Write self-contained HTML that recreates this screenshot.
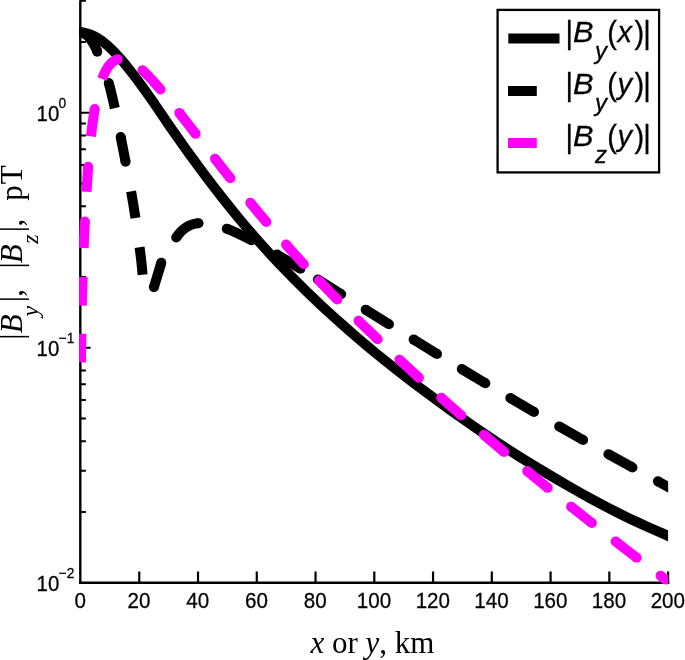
<!DOCTYPE html>
<html><head><meta charset="utf-8"><title>Magnetic field components</title>
<style>html,body{margin:0;padding:0;background:#fff}svg{display:block}</style></head>
<body>
<svg width="685" height="660" viewBox="0 0 685 660">
<rect width="685" height="660" fill="#fff"/>
<defs><clipPath id="c"><rect x="79.1" y="0" width="589.0" height="584.2"/></clipPath></defs>
<g stroke="#000" fill="none">
<path d="M80.3 0.2 V584.10" stroke-width="2.4"/>
<path d="M79.1 582.8 H669.4" stroke-width="2.6"/>
<path d="M139.26 582.8 V571.5 M198.02 582.8 V571.5 M256.78 582.8 V571.5 M315.54 582.8 V571.5 M374.30 582.8 V571.5 M433.06 582.8 V571.5 M491.82 582.8 V571.5 M550.58 582.8 V571.5 M609.34 582.8 V571.5 M668.10 582.8 V571.5" stroke-width="2.2"/>
<path d="M80.3 512.06 H85.9 M80.3 470.68 H85.9 M80.3 441.32 H85.9 M80.3 418.54 H85.9 M80.3 399.93 H85.9 M80.3 384.20 H85.9 M80.3 370.57 H85.9 M80.3 358.55 H85.9 M80.3 347.80 H90.6 M80.3 277.06 H85.9 M80.3 235.68 H85.9 M80.3 206.32 H85.9 M80.3 183.54 H85.9 M80.3 164.93 H85.9 M80.3 149.20 H85.9 M80.3 135.57 H85.9 M80.3 123.55 H85.9 M80.3 112.80 H90.6 M80.3 42.06 H85.9 M80.3 0.68 H85.9" stroke-width="2"/>
</g>
<g clip-path="url(#c)" fill="none" stroke-linejoin="round">
<path d="M80.30 32.08 L82.80 32.46 L85.30 33.01 L87.80 33.68 L90.30 34.51 L92.30 35.31 L94.30 36.25 L96.30 37.34 L98.30 38.55 L100.30 39.87 L102.80 41.67 L105.30 43.64 L107.80 45.77 L110.30 48.07 L112.80 50.51 L115.30 53.07 L118.30 56.31 L120.80 59.13 L123.30 62.04 L125.80 65.05 L128.80 68.77 L134.80 76.52 L141.30 85.29 L146.80 92.93 L152.30 100.73 L157.30 107.99 L170.30 127.06 L178.80 139.19 L185.80 149.03 L192.30 158.04 L198.80 166.92 L204.80 174.99 L210.30 182.28 L215.30 188.80 L220.80 195.87 L225.80 202.19 L230.80 208.41 L235.80 214.54 L240.80 220.58 L246.30 227.10 L252.80 234.67 L258.80 241.51 L265.30 248.75 L271.80 255.84 L278.30 262.79 L285.30 270.11 L292.30 277.28 L299.30 284.31 L305.80 290.72 L312.80 297.47 L319.80 304.09 L326.80 310.59 L334.30 317.43 L342.30 324.59 L350.80 332.06 L358.30 338.54 L367.30 346.16 L376.80 354.02 L386.30 361.70 L396.30 369.60 L405.30 376.57 L414.30 383.40 L428.80 394.18 L440.30 402.67 L449.80 409.59 L458.30 415.66 L468.30 422.67 L478.30 429.55 L487.80 435.99 L497.30 442.30 L508.80 449.82 L518.30 455.92 L526.80 461.25 L536.30 467.06 L546.80 473.36 L557.80 479.85 L568.80 486.22 L579.80 492.48 L590.80 498.63 L598.80 502.96 L606.80 507.16 L615.80 511.76 L623.30 515.52 L629.80 518.65 L637.30 522.15 L647.30 526.72 L664.80 534.36 L670.30 536.81" stroke="#000" stroke-width="10.0"/>
<path d="M79.00 32.30 L79.96 32.32 L81.37 32.54 L82.75 32.96 L84.08 33.54 L85.34 34.24 L86.53 35.05 L87.64 35.96 L88.67 36.96 L89.90 38.41 L91.03 39.96 L92.34 41.99 L94.08 44.88 L95.25 46.97 L96.09 48.68 L96.83 50.44 L97.30 51.80 M108.78 83.01 L110.30 88.86 L111.80 94.95 L113.30 101.38 L114.80 108.15 M120.72 136.99 L125.56 161.71 M131.10 191.43 L133.46 205.26 L135.46 218.08 M139.58 247.25 L140.50 254.33 L141.26 260.87 L141.96 267.75 L142.58 274.81 M153.90 287.20 L161.30 262.80 M176.23 237.54 L177.36 235.93 L178.52 234.42 L179.72 232.99 L180.94 231.68 L182.20 230.46 L183.50 229.33 L184.82 228.30 L186.18 227.37 L187.58 226.53 L189.00 225.79 L190.48 225.13 L192.00 224.56 L193.56 224.08 L195.18 223.69 L196.84 223.39 L198.53 223.18 M226.74 228.70 L232.34 230.99 L238.32 233.68 L244.74 236.78 L251.65 240.33 M276.93 254.54 L287.94 261.12 L300.46 268.76 M317.88 279.58 L341.16 294.21 M365.70 309.66 L388.99 324.28 M413.61 339.61 L437.03 354.03 M461.80 369.11 L485.37 383.28 M510.31 398.07 L534.05 411.95 M559.18 426.43 L583.09 440.02 M608.39 454.19 L632.46 467.49 M657.92 481.37 L670.30 488.04" stroke="#000" stroke-width="10.0" stroke-linecap="butt"/>
<g fill="#000" stroke="none"><circle cx="79.00" cy="32.30" r="5.00"/><circle cx="97.30" cy="51.80" r="5.00"/><circle cx="108.78" cy="83.01" r="5.00"/><circle cx="120.72" cy="136.99" r="5.00"/><circle cx="125.56" cy="161.71" r="5.00"/><circle cx="153.90" cy="287.20" r="5.00"/><circle cx="161.30" cy="262.80" r="5.00"/><circle cx="176.23" cy="237.54" r="5.00"/><circle cx="198.53" cy="223.18" r="5.00"/><circle cx="226.74" cy="228.70" r="5.00"/><circle cx="251.65" cy="240.33" r="5.00"/><circle cx="276.93" cy="254.54" r="5.00"/><circle cx="300.46" cy="268.76" r="5.00"/><circle cx="317.88" cy="279.58" r="5.00"/><circle cx="341.16" cy="294.21" r="5.00"/><circle cx="365.70" cy="309.66" r="5.00"/><circle cx="388.99" cy="324.28" r="5.00"/><circle cx="413.61" cy="339.61" r="5.00"/><circle cx="437.03" cy="354.03" r="5.00"/><circle cx="461.80" cy="369.11" r="5.00"/><circle cx="485.37" cy="383.28" r="5.00"/><circle cx="510.31" cy="398.07" r="5.00"/><circle cx="534.05" cy="411.95" r="5.00"/><circle cx="559.18" cy="426.43" r="5.00"/><circle cx="583.09" cy="440.02" r="5.00"/><circle cx="608.39" cy="454.19" r="5.00"/><circle cx="632.46" cy="467.49" r="5.00"/><circle cx="657.92" cy="481.37" r="5.00"/><circle cx="670.30" cy="488.04" r="5.00"/></g>
<path d="M80.92 362.39 L81.30 333.66 M81.81 305.69 L82.64 276.95 M83.67 248.05 L84.24 234.48 L84.85 221.54 M86.53 191.78 L87.38 178.23 L88.20 166.70 M90.98 136.40 L91.84 129.05 L92.76 121.97 L93.72 115.35 L94.74 109.05 M102.12 78.98 L102.92 76.88 L103.76 74.85 L104.60 73.00 L105.48 71.22 L106.38 69.58 L107.30 68.05 L108.24 66.65 L109.20 65.37 L110.18 64.22 L111.20 63.16 L112.24 62.22 L113.30 61.41 L114.38 60.71 L115.50 60.12 L116.64 59.65 L117.82 59.29 M142.40 70.25 L144.36 72.07 L146.40 74.05 L150.70 78.48 L155.38 83.61 L160.52 89.56 M179.36 112.90 L195.61 133.84 M214.94 158.71 L222.88 168.79 L230.46 178.31 M250.31 202.76 L258.35 212.44 L266.36 221.93 M286.03 244.58 L294.89 254.48 L303.80 264.25 M318.96 280.46 L328.03 289.95 L337.36 299.54 M358.57 320.75 L368.00 329.94 L377.61 339.18 M399.44 359.75 L409.12 368.70 L418.95 377.69 M441.27 397.74 L451.14 406.46 L461.17 415.24 M483.89 434.82 L504.12 451.94 M527.20 471.11 L547.73 487.86 M571.12 506.65 L591.91 523.08 M615.58 541.51 L636.61 557.64 M660.53 575.74 L669.50 582.45" stroke="#f0f" stroke-width="10.0" stroke-linecap="butt"/>
<g fill="#f0f" stroke="none"><circle cx="84.85" cy="221.54" r="5.00"/><circle cx="88.20" cy="166.70" r="5.00"/><circle cx="94.74" cy="109.05" r="5.00"/><circle cx="117.82" cy="59.29" r="5.00"/><circle cx="142.40" cy="70.25" r="5.00"/><circle cx="160.52" cy="89.56" r="5.00"/><circle cx="179.36" cy="112.90" r="5.00"/><circle cx="195.61" cy="133.84" r="5.00"/><circle cx="214.94" cy="158.71" r="5.00"/><circle cx="230.46" cy="178.31" r="5.00"/><circle cx="250.31" cy="202.76" r="5.00"/><circle cx="266.36" cy="221.93" r="5.00"/><circle cx="286.03" cy="244.58" r="5.00"/><circle cx="303.80" cy="264.25" r="5.00"/><circle cx="318.96" cy="280.46" r="5.00"/><circle cx="337.36" cy="299.54" r="5.00"/><circle cx="358.57" cy="320.75" r="5.00"/><circle cx="377.61" cy="339.18" r="5.00"/><circle cx="399.44" cy="359.75" r="5.00"/><circle cx="418.95" cy="377.69" r="5.00"/><circle cx="441.27" cy="397.74" r="5.00"/><circle cx="461.17" cy="415.24" r="5.00"/><circle cx="483.89" cy="434.82" r="5.00"/><circle cx="504.12" cy="451.94" r="5.00"/><circle cx="527.20" cy="471.11" r="5.00"/><circle cx="547.73" cy="487.86" r="5.00"/><circle cx="571.12" cy="506.65" r="5.00"/><circle cx="591.91" cy="523.08" r="5.00"/><circle cx="615.58" cy="541.51" r="5.00"/><circle cx="636.61" cy="557.64" r="5.00"/><circle cx="660.53" cy="575.74" r="5.00"/><circle cx="669.50" cy="582.45" r="5.00"/></g>
</g>
<g font-family="'Liberation Sans', Arial, Helvetica, sans-serif" font-size="20" fill="#000" stroke="#000" stroke-width="0.25">
<text transform="translate(80.2 607.6) scale(1.03 1.08)" text-anchor="middle">0</text>
<text transform="translate(139.0 607.6) scale(1.03 1.08)" text-anchor="middle">20</text>
<text transform="translate(197.7 607.6) scale(1.03 1.08)" text-anchor="middle">40</text>
<text transform="translate(256.5 607.6) scale(1.03 1.08)" text-anchor="middle">60</text>
<text transform="translate(315.2 607.6) scale(1.03 1.08)" text-anchor="middle">80</text>
<text transform="translate(374.0 607.6) scale(1.03 1.08)" text-anchor="middle">100</text>
<text transform="translate(432.8 607.6) scale(1.03 1.08)" text-anchor="middle">120</text>
<text transform="translate(491.5 607.6) scale(1.03 1.08)" text-anchor="middle">140</text>
<text transform="translate(550.3 607.6) scale(1.03 1.08)" text-anchor="middle">160</text>
<text transform="translate(609.0 607.6) scale(1.03 1.08)" text-anchor="middle">180</text>
<text transform="translate(667.8 607.6) scale(1.03 1.08)" text-anchor="middle">200</text>
<text transform="translate(36.6 120.8) scale(1.02 1.08)">10</text>
<text transform="translate(58.6 108.2) scale(1 1.06)" font-size="13.8">0</text>
<text transform="translate(36.6 355.8) scale(1.02 1.08)">10</text>
<text transform="translate(58.6 343.2) scale(1 1.06)" font-size="13.8">−1</text>
<text transform="translate(36.6 590.8) scale(1.02 1.08)">10</text>
<text transform="translate(58.6 578.2) scale(1 1.06)" font-size="13.8">−2</text>
</g>
<text x="310.4" y="653.3" font-family="'Liberation Serif', 'Times New Roman', serif" font-size="31" fill="#000"><tspan font-style="italic">x</tspan> or <tspan font-style="italic">y</tspan>, km</text>
<g transform="translate(22.4 0) rotate(-90)" font-family="'Liberation Serif', 'Times New Roman', serif" font-size="31" fill="#000">
<text x="-339.7" y="0.0">|</text>
<text x="-333.3" y="0.0" font-style="italic">B</text>
<text x="-316.6" y="15.4" font-style="italic" font-size="24">y</text>
<text x="-302.3" y="0.0">|</text>
<text x="-296.7" y="0.0">,</text>
<text x="-268.6" y="0.0">|</text>
<text x="-263.3" y="0.0" font-style="italic">B</text>
<text x="-243.8" y="15.4" font-style="italic" font-size="24">z</text>
<text x="-232.3" y="0.0">|</text>
<text x="-226.6" y="0.0">,</text>
<text x="-200.7" y="0.0">p</text>
<text x="-184.3" y="0.0">T</text>
</g>
<rect x="497.6" y="9.9" width="161.5" height="162.5" fill="#fff" stroke="#000" stroke-width="2.3"/>
<path d="M508.3 38.5 H559.5" stroke="#000" stroke-width="10.2"/>
<path d="M508 91 H536.8" stroke="#000" stroke-width="10"/>
<path d="M508 143 H536.8" stroke="#f0f" stroke-width="10"/>
<g font-family="'Liberation Sans', Arial, Helvetica, sans-serif" font-size="29" fill="#000" stroke="#000" stroke-width="0.3">
<text transform="translate(565.4 43.2) scale(1 1.07)">|</text>
<text transform="translate(573 41.7) scale(1.06 1)" font-style="italic">B</text>
<text x="595" y="59.1" font-style="italic" font-size="24">y</text>
<text transform="translate(607.2 43.2) scale(1 1.07)">(</text>
<text x="617.6" y="41.7" font-style="italic">x</text>
<text transform="translate(634.5 43.2) scale(1 1.07)">)</text>
<text transform="translate(643.2 43.2) scale(1 1.07)">|</text>
<text transform="translate(565.4 95.2) scale(1 1.07)">|</text>
<text transform="translate(573 93.7) scale(1.06 1)" font-style="italic">B</text>
<text x="595" y="111.1" font-style="italic" font-size="24">y</text>
<text transform="translate(607.2 95.2) scale(1 1.07)">(</text>
<text x="617.6" y="93.7" font-style="italic">y</text>
<text transform="translate(634.5 95.2) scale(1 1.07)">)</text>
<text transform="translate(643.2 95.2) scale(1 1.07)">|</text>
<text transform="translate(565.4 147.2) scale(1 1.07)">|</text>
<text transform="translate(573 145.7) scale(1.06 1)" font-style="italic">B</text>
<text x="595" y="163.1" font-style="italic" font-size="24">z</text>
<text transform="translate(607.2 147.2) scale(1 1.07)">(</text>
<text x="617.6" y="145.7" font-style="italic">y</text>
<text transform="translate(634.5 147.2) scale(1 1.07)">)</text>
<text transform="translate(643.2 147.2) scale(1 1.07)">|</text>
</g>
</svg>
</body></html>
